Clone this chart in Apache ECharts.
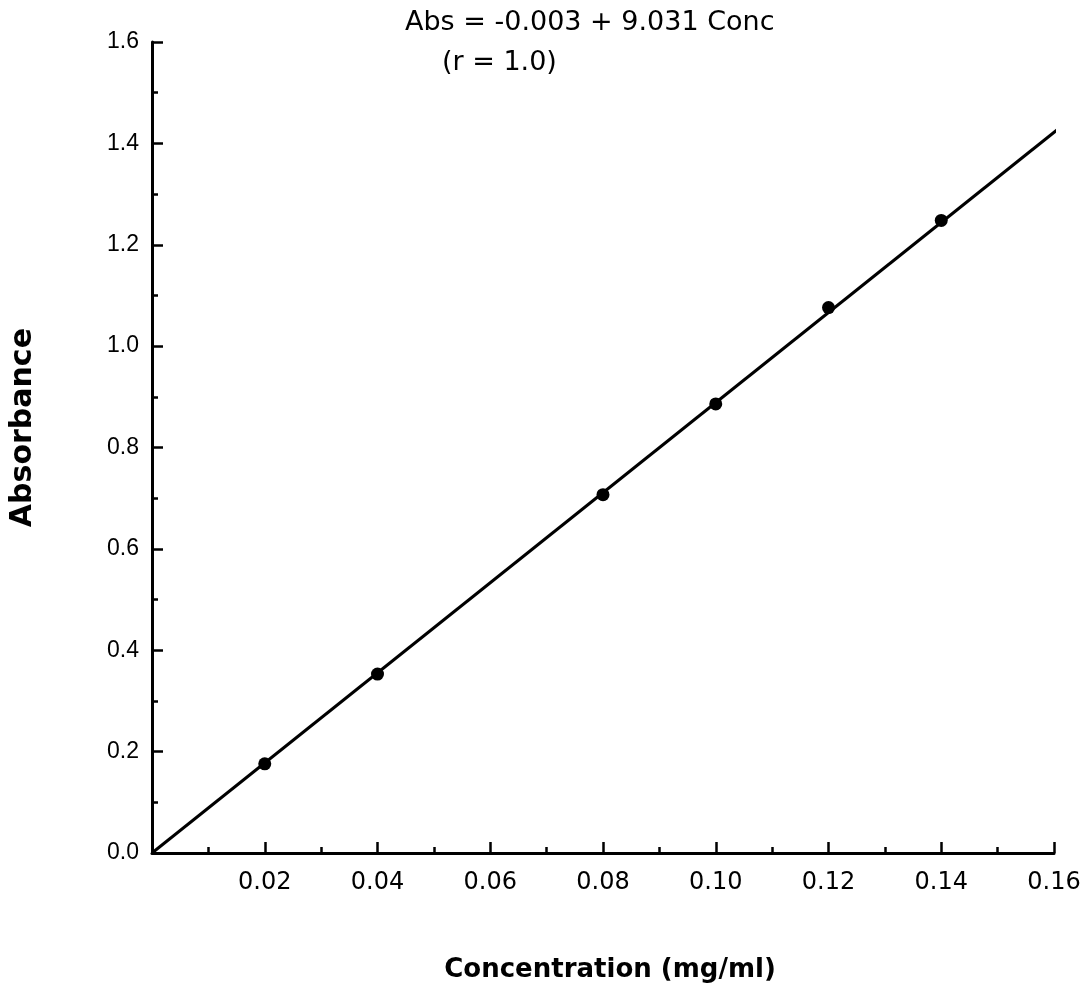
<!DOCTYPE html>
<html>
<head>
<meta charset="utf-8">
<script src="https://cdn.jsdelivr.net/npm/echarts@6/dist/echarts.min.js"></script>
<style>
html,body{margin:0;padding:0;background:#fff;}
#chart{width:1091px;height:993px;}
</style>
</head>
<body>
<div id="chart"></div>
<script>
// Data
var concentrations = [0.02, 0.04, 0.08, 0.10, 0.12, 0.14];
var absorbances = [0.176, 0.353, 0.707, 0.886, 1.076, 1.248];
var fitLineX = [0, 0.1615];
var fitLineY = [0, 1.435];
var equationText = 'Abs = -0.003 + 9.031 Conc';
var rText = '(r = 1.0)';
var xAxisTitle = 'Concentration (mg/ml)';
var yAxisTitle = 'Absorbance';

var points = concentrations.map(function (c, i) { return [c, absorbances[i]]; });
var fitLine = fitLineX.map(function (x, i) { return [x, fitLineY[i]]; });

var chart = echarts.init(document.getElementById('chart'), null, {renderer: 'canvas'});
chart.setOption({
  backgroundColor: '#ffffff',
  animation: false,
  title: [
    {text: equationText, left: 400, top: 4,
     textStyle: {fontFamily: 'DejaVu Sans', fontSize: 27, fontWeight: 'normal', color: '#000'}},
    {text: rText, left: 437, top: 44,
     textStyle: {fontFamily: 'DejaVu Sans', fontSize: 27, fontWeight: 'normal', color: '#000'}}
  ],
  grid: {left: 152, right: 37, top: 42, bottom: 140, containLabel: false},
  xAxis: {
    type: 'value', min: 0, max: 0.16, interval: 0.02,
    name: xAxisTitle, nameLocation: 'middle', nameGap: 104,
    nameTextStyle: {fontFamily: 'DejaVu Sans', fontSize: 26, fontWeight: 'bold', color: '#000', padding: [0, 0, 0, 14]},
    axisLine: {show: true, lineStyle: {color: '#000', width: 3}},
    axisTick: {show: true, inside: true, length: 11, lineStyle: {color: '#000', width: 2.5}},
    minorTick: {show: true, splitNumber: 2, length: 6, lineStyle: {color: '#000', width: 2.5}},
    splitLine: {show: false},
    axisLabel: {
      fontFamily: 'DejaVu Sans', fontSize: 24, color: '#000', margin: 18,
      formatter: function (v) { return v === 0 ? '' : v.toFixed(2); }
    }
  },
  yAxis: {
    type: 'value', min: 0, max: 1.6, interval: 0.2,
    axisLine: {show: true, lineStyle: {color: '#000', width: 3}},
    axisTick: {show: true, inside: true, length: 11, lineStyle: {color: '#000', width: 2.5}},
    minorTick: {show: true, splitNumber: 2, length: 6, lineStyle: {color: '#000', width: 2.5}},
    splitLine: {show: false},
    axisLabel: {
      fontFamily: 'Liberation Sans', fontSize: 23, color: '#000', margin: 13,
      formatter: function (v) { return v.toFixed(1); }
    }
  },
  graphic: [
    {type: 'text', left: 8, top: 328, rotation: Math.PI / 2,
     style: {text: yAxisTitle, fontFamily: 'DejaVu Sans', fontSize: 30, fontWeight: 'bold', fill: '#000'}}
  ],
  series: [
    {type: 'line', data: fitLine, showSymbol: false, clip: false, silent: true,
     lineStyle: {color: '#000', width: 3}, z: 2},
    {type: 'scatter', data: points, symbol: 'circle', symbolSize: 13,
     itemStyle: {color: '#000', opacity: 1}, z: 3}
  ]
});
</script>
</body>
</html>
